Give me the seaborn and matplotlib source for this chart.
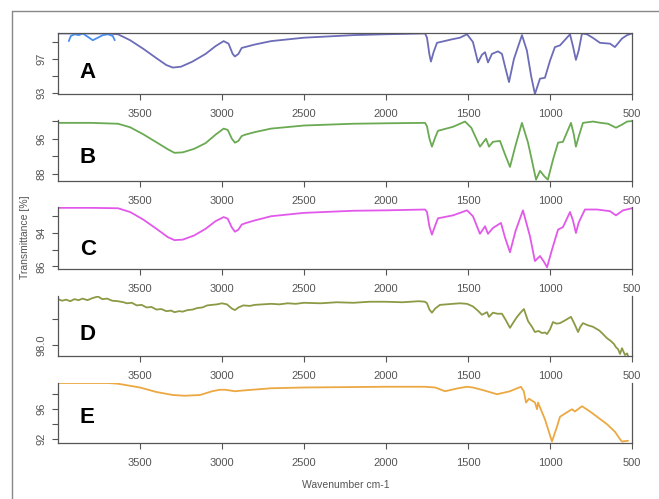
import numpy as np
import pandas as pd
import matplotlib.pyplot as plt
import seaborn as sns
from matplotlib.lines import Line2D

# spectra (wavenumber cm-1, transmittance %)
wn_a = [4000, 3700, 3634, 3560, 3480, 3400, 3340, 3300, 3250, 3180, 3100, 3040, 2990, 2960, 2935, 2921,
        2900, 2880, 2860, 2800, 2700, 2500, 2200, 2006, 1762, 1750, 1735, 1726, 1710, 1689, 1600, 1549,
        1506, 1470, 1439, 1415, 1396, 1378, 1354, 1317, 1293, 1270, 1250, 1220, 1171, 1141, 1115, 1092,
        1061, 1031, 1000, 970, 939, 878, 860, 842, 825, 805, 775, 740, 695, 634, 604, 561, 530, 500]
t_a = [100.0, 100.0, 99.9, 99.2, 98.2, 97.1, 96.3, 96.0, 96.1, 96.7, 97.6, 98.5, 99.1, 98.8, 97.6, 97.3,
       97.6, 98.3, 98.4, 98.7, 99.1, 99.5, 99.8, 99.9, 100.0, 99.5, 97.5, 96.7, 97.8, 98.9, 99.3, 99.5,
       99.9, 99.0, 96.6, 97.5, 97.8, 96.6, 97.6, 97.9, 97.6, 95.8, 94.3, 97.0, 99.8, 98.0, 95.0, 92.9,
       94.7, 94.8, 96.8, 98.4, 98.6, 99.9, 98.5, 96.9, 98.0, 100.0, 99.9, 99.5, 98.9, 98.8, 98.4, 99.4, 99.8, 100.0]

# light blue overlay scrap at the top left of panel A
wn_a2 = [3934, 3922, 3898, 3873, 3849, 3818, 3788, 3757, 3727, 3696, 3666, 3654]
t_a2 = [99.1, 99.7, 99.9, 99.8, 100.0, 99.6, 99.2, 99.5, 99.8, 99.9, 99.7, 99.2]

wn_b = [4000, 3800, 3634, 3560, 3480, 3400, 3330, 3290, 3240, 3170, 3100, 3040, 2990, 2965, 2940, 2921,
        2900, 2880, 2860, 2800, 2700, 2500, 2200, 2006, 1762, 1750, 1735, 1720, 1700, 1683, 1592, 1518,
        1480, 1427, 1390, 1372, 1348, 1305, 1275, 1244, 1210, 1171, 1134, 1110, 1085, 1061, 1035, 1013,
        982, 951, 921, 872, 855, 842, 825, 799, 738, 690, 646, 598, 561, 530, 500]
t_b = [99.6, 99.6, 99.4, 98.6, 97.0, 95.2, 93.6, 92.8, 92.9, 93.7, 95.0, 96.9, 98.3, 98.0, 96.0, 95.1,
       95.5, 96.6, 96.9, 97.5, 98.3, 99.0, 99.4, 99.5, 99.6, 98.8, 96.0, 94.2, 96.3, 97.8, 98.7, 99.9,
       98.5, 94.2, 96.0, 94.2, 95.3, 95.5, 92.5, 89.6, 94.5, 99.6, 95.1, 91.0, 86.7, 88.7, 87.5, 86.7,
       91.2, 95.1, 95.3, 99.6, 97.0, 94.2, 96.5, 99.6, 99.9, 99.6, 99.4, 98.5, 99.2, 99.9, 100.0]

wn_c = [4000, 3800, 3634, 3560, 3480, 3400, 3330, 3290, 3240, 3170, 3100, 3040, 2990, 2965, 2940, 2921,
        2900, 2880, 2860, 2800, 2700, 2500, 2200, 2006, 1762, 1750, 1735, 1720, 1700, 1683, 1592, 1506,
        1470, 1427, 1396, 1378, 1348, 1299, 1275, 1244, 1210, 1165, 1122, 1092, 1061, 1035, 1018, 988,
        951, 921, 878, 860, 842, 825, 787, 713, 634, 598, 555, 500]
t_c = [100.0, 100.0, 99.9, 99.0, 97.2, 95.0, 93.0, 92.3, 92.4, 93.4, 95.0, 96.8, 97.8, 97.4, 95.3, 94.3,
       94.8, 96.0, 96.3, 97.0, 98.0, 98.8, 99.3, 99.4, 99.6, 99.0, 95.5, 93.6, 95.8, 97.5, 98.2, 99.4,
       98.0, 93.8, 95.6, 93.8, 95.2, 96.4, 93.0, 89.4, 94.5, 99.4, 93.2, 87.3, 88.5, 87.0, 85.8, 90.0,
       94.8, 95.4, 99.0, 97.0, 94.0, 96.5, 99.6, 99.6, 99.2, 98.2, 99.4, 99.9]

wn_d = [4000, 3975, 3950, 3925, 3900, 3875, 3850, 3820, 3790, 3756, 3730, 3700, 3670, 3634, 3600, 3580,
        3550, 3520, 3490, 3460, 3430, 3400, 3370, 3340, 3310, 3290, 3260, 3240, 3210, 3180, 3150, 3120,
        3090, 3060, 3030, 3000, 2970, 2940, 2921, 2900, 2870, 2830, 2800, 2750, 2700, 2650, 2600, 2550,
        2500, 2400, 2300, 2200, 2100, 2006, 1900, 1800, 1762, 1750, 1735, 1720, 1700, 1671, 1630, 1592,
        1550, 1506, 1470, 1440, 1415, 1384, 1372, 1348, 1320, 1293, 1270, 1244, 1220, 1201, 1180, 1159,
        1134, 1110, 1092, 1070, 1049, 1030, 1018, 1000, 982, 960, 939, 910, 872, 850, 829, 815, 799,
        770, 738, 700, 680, 652, 630, 610, 598, 585, 573, 561, 550, 543, 530, 524]
t_d = [98.88, 98.85, 98.87, 98.84, 98.88, 98.86, 98.89, 98.86, 98.90, 98.93, 98.88, 98.89, 98.85, 98.84, 98.82, 98.80,
       98.81, 98.76, 98.77, 98.72, 98.73, 98.68, 98.69, 98.65, 98.66, 98.63, 98.65, 98.64, 98.67, 98.68, 98.71, 98.72,
       98.76, 98.77, 98.78, 98.80, 98.78, 98.70, 98.67, 98.72, 98.76, 98.75, 98.77, 98.78, 98.79, 98.78, 98.80, 98.79,
       98.81, 98.80, 98.82, 98.81, 98.83, 98.83, 98.82, 98.84, 98.83, 98.80, 98.68, 98.62, 98.70, 98.77, 98.78, 98.79,
       98.80, 98.79, 98.74, 98.66, 98.58, 98.63, 98.54, 98.62, 98.60, 98.60, 98.48, 98.33, 98.45, 98.54, 98.62, 98.69,
       98.46, 98.35, 98.25, 98.27, 98.23, 98.24, 98.21, 98.30, 98.44, 98.41, 98.42, 98.47, 98.54, 98.40, 98.25, 98.35, 98.42,
       98.38, 98.35, 98.28, 98.22, 98.13, 98.08, 98.02, 97.96, 97.92, 97.83, 97.94, 97.86, 97.81, 97.84, 97.79]

wn_e = [4000, 3800, 3696, 3634, 3500, 3400, 3300, 3226, 3134, 3060, 3013, 2982, 2950, 2921, 2872, 2700,
        2500, 2006, 1762, 1700, 1640, 1560, 1506, 1470, 1400, 1323, 1244, 1177, 1160, 1146, 1128, 1092,
        1079, 1073, 1030, 988, 957, 939, 896, 866, 848, 805, 756, 707, 652, 604, 573, 561, 524]
t_e = [99.4, 99.4, 99.4, 99.3, 98.8, 98.2, 97.8, 97.7, 97.8, 98.3, 98.5, 98.5, 98.4, 98.3, 98.4, 98.7,
       98.8, 98.9, 98.9, 98.8, 98.3, 98.7, 98.9, 98.8, 98.4, 97.9, 98.3, 98.9, 98.3, 96.8, 97.3, 96.8,
       95.9, 96.8, 94.5, 91.6, 93.6, 94.9, 95.5, 95.9, 95.6, 96.3, 95.6, 94.8, 93.9, 92.9, 91.9, 91.6, 91.7]

panel_letters = ["A", "B", "C", "D", "E"]
colors = ["#6c6cb8", "#6aaa52", "#e258ea", "#8c9a45", "#eca843"]
ylims = [(92.9, 100.05), (86.4, 100.25), (85.4, 100.2), (97.79, 98.94), (91.4, 99.4)]
yticks = [[93, 95, 97, 99], [88, 92, 96, 100], [86, 90, 94, 98], [98.0, 98.5], [92, 94, 96, 98]]
yticklabels = [["93", "", "97", ""], ["88", "", "96", ""], ["86", "", "94", ""], ["98.0", ""],
               ["92", "", "96", ""]]
xticks = [3500, 3000, 2500, 2000, 1500, 1000, 500]

spectra = [(wn_a, t_a), (wn_b, t_b), (wn_c, t_c), (wn_d, t_d), (wn_e, t_e)]

sns.set_style("ticks")
plt.rcParams['font.family'] = ['Liberation Sans', 'DejaVu Sans']

fig = plt.figure(figsize=(6.59, 4.99), dpi=100)
W, H = 659, 499

# panel pixel boxes (top, bottom)
boxes = [(33, 94), (120, 181), (207, 269), (296, 356), (383, 443)]
letter_y = [0.36, 0.39, 0.31, 0.35, 0.43]
gray = "#555555"

for i, ((top, bot), (wn, tr)) in enumerate(zip(boxes, spectra)):
    ax = fig.add_axes([58 / W, 1 - bot / H, 574 / W, (bot - top) / H])
    df = pd.DataFrame({"wavenumber": wn, "T": tr})
    sns.lineplot(data=df, x="wavenumber", y="T", ax=ax, color=colors[i], lw=1.3,
                 sort=False, estimator=None)
    if i == 0:
        df2 = pd.DataFrame({"wavenumber": wn_a2, "T": t_a2})
        sns.lineplot(data=df2, x="wavenumber", y="T", ax=ax, color="#4a8ef0", lw=1.3,
                     sort=False, estimator=None)
    ax.set_xlim(4000, 500)
    ax.set_ylim(*ylims[i])
    ax.set_xticks(xticks)
    ax.set_xticklabels([str(v) for v in xticks], fontsize=8, color=gray)
    ax.set_yticks(yticks[i])
    ax.set_yticklabels(yticklabels[i], fontsize=8, color=gray, rotation=90, va="center")
    ax.tick_params(axis="both", length=4.5, width=0.8, color=gray)
    ax.tick_params(axis="x", pad=6)
    ax.tick_params(axis="y", pad=4)
    ax.set_xlabel("")
    ax.set_ylabel("")
    for s in ["left", "right", "bottom", "top"]:
        ax.spines[s].set_color(gray)
        ax.spines[s].set_linewidth(0.9)
    ax.spines["top"].set_visible(i == 0)
    ax.spines["right"].set_visible(True)
    ax.patch.set_alpha(0)
    ax.text(0.038, letter_y[i], panel_letters[i], transform=ax.transAxes, fontsize=16,
            fontweight="bold", ha="left", va="center", color="black")

fig.text(25 / W, 1 - 237 / H, "Transmittance [%]", rotation=90, ha="center", va="center",
         fontsize=7.5, color=gray)
fig.text(346 / W, 1 - 485 / H, "Wavenumber cm-1", ha="center", va="center",
         fontsize=7.5, color=gray)

# outer frame of the pasted figure
fig.add_artist(Line2D([12 / W, 1], [1 - 11 / H, 1 - 11 / H], color="#888888", lw=1))
fig.add_artist(Line2D([12 / W, 12 / W], [1 - 11 / H, 0], color="#888888", lw=1))

fig.savefig("out.png", dpi=100)
